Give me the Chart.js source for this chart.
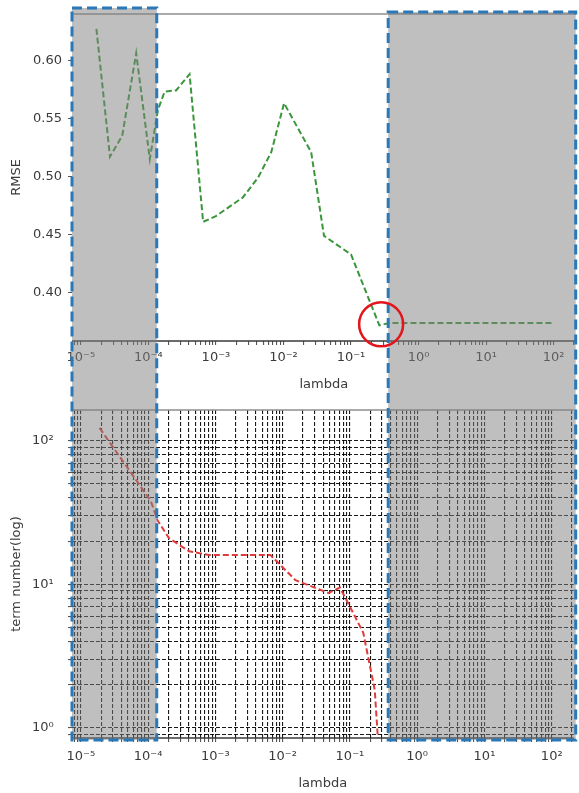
<!DOCTYPE html>
<html>
<head>
<meta charset="utf-8">
<script src="https://cdn.jsdelivr.net/npm/chart.js@4.4.0/dist/chart.umd.min.js"></script>
<style>
  body { margin: 0; background: #fff; }
  #wrap { position: relative; width: 579px; height: 793px; }
  #wrap canvas { position: absolute; left: 0; }
  #top { top: 0; }
  #bottom { top: 395px; }
  #marks { top: 0; pointer-events: none; }
</style>
</head>
<body>
<div id="wrap">
  <canvas id="top" width="579" height="395"></canvas>
  <canvas id="bottom" width="579" height="398"></canvas>
  <canvas id="marks" width="579" height="793"></canvas>
</div>
<script>
// ---- values ----
const rmseLambda = [1.7e-5, 2.7e-5, 4.1e-5, 6.6e-5, 1.05e-4, 1.38e-4, 1.74e-4, 2.57e-4, 4.07e-4, 6.46e-4,
                    1.0e-3, 2.5e-3, 4.2e-3, 6.6e-3, 1.02e-2, 2.57e-2, 3.98e-2, 0.1, 0.263, 0.363, 1, 10, 100];
const rmseValues = [0.627, 0.517, 0.535, 0.606, 0.515, 0.557, 0.573, 0.574, 0.588, 0.461,
                    0.466, 0.482, 0.499, 0.521, 0.563, 0.521, 0.449, 0.433, 0.372, 0.374, 0.374, 0.374, 0.374];

const termLambda = [1.9e-5, 1.1e-4, 1.38e-4, 2.04e-4, 4.07e-4, 8.1e-4, 2.0e-3, 6.6e-3,
                    1.55e-2, 4.8e-2, 7.1e-2, 0.1, 0.158, 0.234, 0.28];
const termCounts = [123, 38, 28, 21, 17, 16, 16, 16, 10.7, 8.7, 9.5, 7.0, 4.6, 1.84, 0.5];

const lambdaDecades = [-5, -4, -3, -2, -1, 0, 1, 2];
const rmseTicks = [0.40, 0.45, 0.50, 0.55, 0.60];
const termDecades = [0, 1, 2];

// shaded regions and the circled optimum
const shadeLeftEnd = 1.33e-4;
const shadeRightStart = 0.355;
const optimumLambda = 0.279;
const optimumRmse = 0.373;

const LAMBDA_MIN = 7.4e-6, LAMBDA_MAX = 212;
const TEXT = '#3a3a3a';

Chart.defaults.font.family = 'DejaVu Sans';
Chart.defaults.font.size = 13;
Chart.defaults.color = TEXT;

const SUP = { '-': '\u207B', '0': '\u2070', '1': '\u00B9', '2': '\u00B2', '3': '\u00B3',
              '4': '\u2074', '5': '\u2075', '6': '\u2076', '7': '\u2077', '8': '\u2078', '9': '\u2079' };

function pow10Label(v) {
    const e = Math.round(Math.log10(v));
    return '10' + String(e).split('').map(c => SUP[c]).join('');
}

// every 1..9 x 10^n inside the range, majors at the listed decades
function logTicks(min, max, decades) {
    const out = [];
    for (let e = decades[0] - 1; e <= decades[decades.length - 1] + 1; e++) {
        for (let m = 1; m <= 9; m++) {
            const v = m * Math.pow(10, e);
            if (v >= min && v <= max) out.push({ value: v, major: m === 1 && decades.includes(e) });
        }
    }
    return out;
}

const spines = {
    id: 'spines',
    afterDatasetsDraw(chart) {
        const { ctx, chartArea: a } = chart;
        ctx.save();
        ctx.lineWidth = 1.6;
        ctx.strokeStyle = '#8e8e8e';
        ctx.beginPath(); ctx.moveTo(a.left, a.top); ctx.lineTo(a.right, a.top); ctx.stroke();
        ctx.lineWidth = 1.3;
        ctx.strokeStyle = '#3a3a3a';
        ctx.beginPath(); ctx.moveTo(a.left, a.bottom); ctx.lineTo(a.right, a.bottom); ctx.stroke();
        ctx.restore();
    }
};

function lambdaAxis(height, gridOnArea, pad, titlePad) {
    return {
        type: 'logarithmic',
        min: LAMBDA_MIN,
        max: LAMBDA_MAX,
        bounds: 'data',
        afterBuildTicks: s => { s.ticks = logTicks(LAMBDA_MIN, LAMBDA_MAX, lambdaDecades); },
        afterFit: s => { s.height = height; },
        ticks: {
            autoSkip: false,
            maxRotation: 0,
            padding: pad,
            callback: (v, i, ticks) => ticks[i].major ? pow10Label(v) : ''
        },
        grid: {
            drawOnChartArea: gridOnArea,
            color: 'rgba(0,0,0,0.9)',
            lineWidth: 1.1,
            tickLength: 4,
            tickColor: '#555'
        },
        border: { display: false, dash: [4, 2] },
        title: { display: true, text: 'lambda', padding: { top: 0, bottom: titlePad } }
    };
}

const topChart = new Chart(document.getElementById('top'), {
    type: 'line',
    data: {
        datasets: [{
            data: rmseLambda.map((x, i) => ({ x, y: rmseValues[i] })),
            borderColor: '#3a963a',
            borderWidth: 2,
            borderDash: [6, 3],
            pointRadius: 0,
            fill: false,
            tension: 0
        }]
    },
    options: {
        responsive: false,
        animation: false,
        layout: { padding: { top: 14, right: 2, left: 0, bottom: 0 } },
        plugins: { legend: { display: false }, tooltip: { enabled: false } },
        scales: {
            x: lambdaAxis(54, false, 5, 3),
            y: {
                min: 0.3586,
                max: 0.6397,
                afterBuildTicks: s => { s.ticks = rmseTicks.map(v => ({ value: v })); },
                afterFit: s => { s.width = 72; },
                ticks: { padding: 6, callback: v => v.toFixed(2) },
                grid: { drawOnChartArea: false, tickLength: 4, tickColor: '#555' },
                border: { display: false },
                title: { display: true, text: 'RMSE', padding: { top: 9, bottom: 0 } }
            }
        }
    },
    plugins: [spines]
});

const bottomChart = new Chart(document.getElementById('bottom'), {
    type: 'line',
    data: {
        datasets: [{
            data: termLambda.map((x, i) => ({ x, y: termCounts[i] })),
            borderColor: '#e03a3a',
            borderWidth: 2,
            borderDash: [6, 3],
            pointRadius: 0,
            fill: false,
            tension: 0
        }]
    },
    options: {
        responsive: false,
        animation: false,
        layout: { padding: { top: 15, right: 2, left: 0, bottom: 0 } },
        plugins: { legend: { display: false }, tooltip: { enabled: false } },
        scales: {
            x: lambdaAxis(55, true, 7, 2),
            y: {
                type: 'logarithmic',
                min: 0.85,
                max: 164,
                bounds: 'data',
                afterBuildTicks: s => { s.ticks = logTicks(0.85, 164, termDecades); },
                afterFit: s => { s.width = 72; },
                ticks: {
                    autoSkip: false,
                    padding: 6,
                    // trailing spaces push the labels a little further from the axis
                    callback: (v, i, ticks) => ticks[i].major ? pow10Label(v) + '  ' : ''
                },
                grid: { color: 'rgba(0,0,0,0.9)', lineWidth: 1.1, tickLength: 4, tickColor: '#555' },
                border: { display: false, dash: [4, 2] },
                title: { display: true, text: 'term number(log)', padding: { top: 9, bottom: 0 } }
            }
        }
    },
    plugins: [spines]
});

// ---- annotation layer: shaded regions, dashed boxes, circle ----
function drawMarks() {
    const ctx = document.getElementById('marks').getContext('2d');
    const xs = topChart.scales.x;
    const ys = topChart.scales.y;
    const a1 = topChart.chartArea;
    const a2 = bottomChart.chartArea;
    const bottomEdge = 395 + a2.bottom + 2;

    const boxes = [
        { x0: a1.left, x1: xs.getPixelForValue(shadeLeftEnd), y0: a1.top - 6 },
        { x0: xs.getPixelForValue(shadeRightStart), x1: a1.right, y0: a1.top - 2 }
    ];

    boxes.forEach(b => {
        ctx.fillStyle = 'rgba(128,128,128,0.5)';
        ctx.fillRect(b.x0, b.y0, b.x1 - b.x0, bottomEdge - b.y0);
    });
    boxes.forEach(b => {
        ctx.save();
        ctx.strokeStyle = '#2a78b8';
        ctx.lineWidth = 3;
        ctx.setLineDash([10, 5]);
        ctx.strokeRect(b.x0, b.y0, b.x1 - b.x0, bottomEdge - b.y0);
        ctx.restore();
    });

    ctx.save();
    ctx.strokeStyle = '#e3141c';
    ctx.lineWidth = 2.5;
    ctx.beginPath();
    ctx.arc(xs.getPixelForValue(optimumLambda), ys.getPixelForValue(optimumRmse), 22, 0, Math.PI * 2);
    ctx.stroke();
    ctx.restore();
}

drawMarks();
</script>
</body>
</html>
